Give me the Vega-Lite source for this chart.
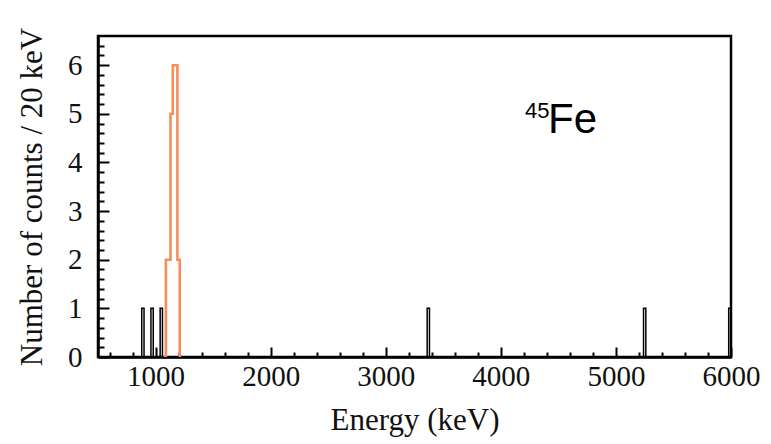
{
  "$schema": "https://vega.github.io/schema/vega-lite/v6.json",
  "width": 633,
  "height": 321,
  "autosize": {"type": "none"},
  "padding": {"left": 98, "top": 36, "right": 40, "bottom": 87},
  "background": "white",
  "config": {
    "view": {"stroke": "black", "strokeWidth": 2.5},
    "axis": {
      "grid": false,
      "zindex": 1,
      "domainColor": "black",
      "domainWidth": 2.5,
      "tickColor": "black",
      "tickWidth": 2,
      "labelOverlap": false,
      "labelFlush": false,
      "labelBound": false,
      "labelFont": "Liberation Serif",
      "labelFontSize": 29,
      "labelColor": "#111",
      "titleFont": "Liberation Serif",
      "titleFontSize": 31,
      "titleFontWeight": "normal",
      "titleColor": "#111"
    },
    "text": {"font": "Liberation Sans", "color": "black"}
  },
  "data": {
    "values": [
      {"e": 860, "n": 0, "s": "other"},
      {"e": 880, "n": 1, "s": "other"},
      {"e": 900, "n": 0, "s": "other"},
      {"e": 940, "n": 0, "s": "other"},
      {"e": 960, "n": 1, "s": "other"},
      {"e": 980, "n": 0, "s": "other"},
      {"e": 1020, "n": 0, "s": "other"},
      {"e": 1040, "n": 1, "s": "other"},
      {"e": 1060, "n": 0, "s": "other"},
      {"e": 3340, "n": 0, "s": "other"},
      {"e": 3360, "n": 1, "s": "other"},
      {"e": 3380, "n": 0, "s": "other"},
      {"e": 5220, "n": 0, "s": "other"},
      {"e": 5240, "n": 1, "s": "other"},
      {"e": 5260, "n": 0, "s": "other"},
      {"e": 5960, "n": 0, "s": "other"},
      {"e": 5980, "n": 1, "s": "other"},
      {"e": 6000, "n": 0, "s": "other"},
      {"e": 1070, "n": 0, "s": "peak"},
      {"e": 1090, "n": 2, "s": "peak"},
      {"e": 1110, "n": 2, "s": "peak"},
      {"e": 1130, "n": 5, "s": "peak"},
      {"e": 1150, "n": 6, "s": "peak"},
      {"e": 1170, "n": 6, "s": "peak"},
      {"e": 1190, "n": 2, "s": "peak"},
      {"e": 1210, "n": 0, "s": "peak"}
    ]
  },
  "resolve": {"axis": {"x": "independent", "y": "independent"}},
  "layer": [
    {
      "mark": {"type": "point", "opacity": 0},
      "encoding": {
        "x": {
          "field": "e",
          "type": "quantitative",
          "scale": {"domain": [500, 6000], "nice": false, "zero": false},
          "axis": {
            "orient": "bottom",
            "title": null,
            "labels": false,
            "domain": false,
            "tickSize": -5,
            "values": [600, 800, 1200, 1400, 1600, 1800, 2200, 2400, 2600, 2800, 3200, 3400, 3600, 3800, 4200, 4400, 4600, 4800, 5200, 5400, 5600, 5800]
          }
        },
        "y": {
          "field": "n",
          "type": "quantitative",
          "scale": {"domain": [0, 6.6], "nice": false},
          "axis": {
            "orient": "left",
            "title": null,
            "labels": false,
            "domain": false,
            "tickSize": -6,
            "values": [0.2, 0.4, 0.6, 0.8, 1.2, 1.4, 1.6, 1.8, 2.2, 2.4, 2.6, 2.8, 3.2, 3.4, 3.6, 3.8, 4.2, 4.4, 4.6, 4.8, 5.2, 5.4, 5.6, 5.8, 6.2, 6.4]
          }
        }
      }
    },
    {
      "mark": {"type": "line", "interpolate": "step-after", "clip": true},
      "encoding": {
        "x": {
          "field": "e",
          "type": "quantitative",
          "axis": {
            "orient": "bottom",
            "title": "Energy (keV)",
            "values": [1000, 2000, 3000, 4000, 5000, 6000],
            "format": "d",
            "tickSize": -10,
            "labelPadding": 15,
            "titlePadding": 14
          }
        },
        "y": {
          "field": "n",
          "type": "quantitative",
          "axis": {
            "orient": "left",
            "title": "Number of counts / 20 keV",
            "values": [0, 1, 2, 3, 4, 5, 6],
            "format": "d",
            "tickSize": -11,
            "labelPadding": 27,
            "titlePadding": 19
          }
        },
        "color": {
          "field": "s",
          "type": "nominal",
          "scale": {"domain": ["other", "peak"], "range": ["black", "#f58d5c"]},
          "legend": null
        },
        "strokeWidth": {
          "field": "s",
          "type": "nominal",
          "scale": {"domain": ["other", "peak"], "range": [1.5, 2.6]},
          "legend": null
        }
      }
    },
    {
      "data": {"values": [{}]},
      "mark": {"type": "text", "align": "left", "baseline": "alphabetic", "fontSize": 22},
      "encoding": {
        "x": {"datum": 4210, "type": "quantitative", "axis": null},
        "y": {"datum": 4.91, "type": "quantitative", "axis": null},
        "text": {"value": "45"}
      }
    },
    {
      "data": {"values": [{}]},
      "mark": {"type": "text", "align": "left", "baseline": "alphabetic", "fontSize": 42},
      "encoding": {
        "x": {"datum": 4410, "type": "quantitative", "axis": null},
        "y": {"datum": 4.6, "type": "quantitative", "axis": null},
        "text": {"value": "Fe"}
      }
    }
  ]
}
